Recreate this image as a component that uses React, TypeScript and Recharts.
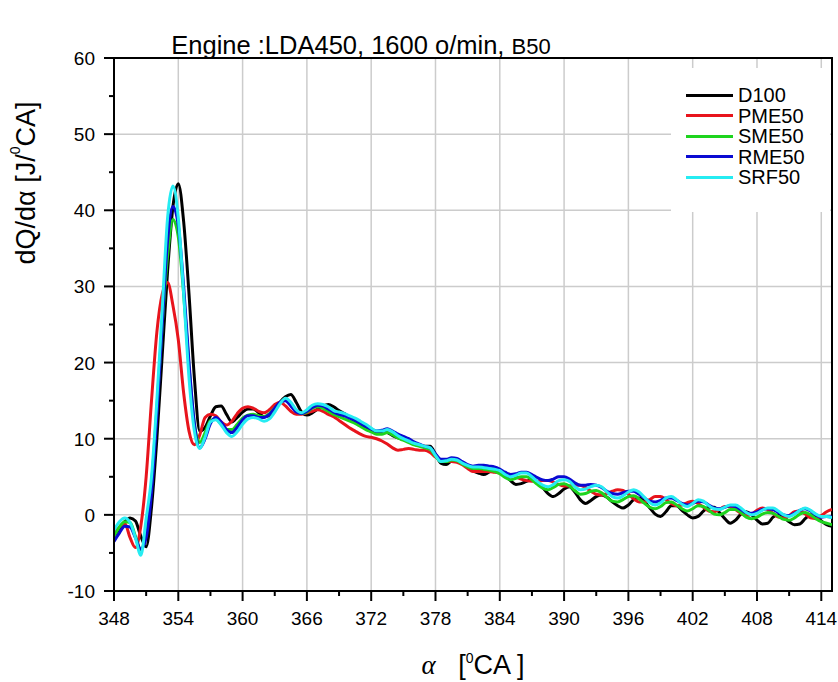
import React from 'react';
import {
  CartesianGrid,
  Label,
  Legend,
  Line,
  LineChart,
  ReferenceArea,
  XAxis,
  YAxis,
} from 'recharts';

// Heat release rate vs crank angle, LDA450 at 1600 rpm, B50 blends.
// Values every 0.5 °CA.

const ANGLE = [
  348, 348.5, 349, 349.5, 350, 350.5, 351, 351.5, 352, 352.5,
  353, 353.5, 354, 354.5, 355, 355.5, 356, 356.5, 357, 357.5,
  358, 358.5, 359, 359.5, 360, 360.5, 361, 361.5, 362, 362.5,
  363, 363.5, 364, 364.5, 365, 365.5, 366, 366.5, 367, 367.5,
  368, 368.5, 369, 369.5, 370, 370.5, 371, 371.5, 372, 372.5,
  373, 373.5, 374, 374.5, 375, 375.5, 376, 376.5, 377, 377.5,
  378, 378.5, 379, 379.5, 380, 380.5, 381, 381.5, 382, 382.5,
  383, 383.5, 384, 384.5, 385, 385.5, 386, 386.5, 387, 387.5,
  388, 388.5, 389, 389.5, 390, 390.5, 391, 391.5, 392, 392.5,
  393, 393.5, 394, 394.5, 395, 395.5, 396, 396.5, 397, 397.5,
  398, 398.5, 399, 399.5, 400, 400.5, 401, 401.5, 402, 402.5,
  403, 403.5, 404, 404.5, 405, 405.5, 406, 406.5, 407, 407.5,
  408, 408.5, 409, 409.5, 410, 410.5, 411, 411.5, 412, 412.5,
  413, 413.5, 414, 414.5, 415,
];

const D100 = [
  -2.8, -1.8, -0.9, -0.4, -0.8, -2.8, -4.2, 1.0, 10, 21,
  32, 40.5, 43.5, 38.5, 29, 18, 11, 11.5, 13, 14.2,
  14.3, 13.2, 12.2, 12.8, 13.5, 13.9, 13.9, 13.4, 12.9, 13.0,
  13.8, 14.8, 15.5, 15.8, 14.8, 13.5, 13.1, 13.4, 13.9, 14.3,
  14.5, 14.2, 13.7, 13.3, 12.8, 12.3, 11.8, 11.3, 11.0, 10.8,
  10.9, 10.8, 10.4, 10.1, 9.9, 9.6, 9.3, 9.1, 9.0, 9.0,
  8.0, 6.8, 6.6, 7.1, 7.2, 6.8, 6.3, 5.8, 5.5, 5.3,
  5.6, 5.9, 5.8, 5.2, 4.5, 4.0, 4.1, 4.4, 4.6, 4.3,
  3.6, 2.8, 2.4, 2.8, 3.4, 3.7, 3.0, 2.0, 1.5, 1.9,
  2.4, 2.6, 2.3, 1.7, 1.2, 0.9, 1.3, 2.0, 2.2, 1.7,
  0.9, 0.1, -0.2, 0.4, 1.2, 1.2, 0.6, 0.0, -0.4, -0.2,
  0.5, 1.0, 1.0, 0.3, -0.5, -1.1, -0.7, 0.1, 0.4, 0.0,
  -0.7, -1.2, -1.1, -0.3, 0.0, -0.3, -0.9, -1.3, -1.2, -0.5,
  0.0, -0.2, -0.8, -1.3, -1.5,
];

const PME50 = [
  -2.5, -1.6, -1.1, -3.0, -4.3, -1.5, 5, 15, 24, 29,
  30.5, 27.5, 23, 16, 11, 9.2, 10.5, 12.8, 13.2, 13.0,
  12.2, 11.8, 12.3, 13.3, 14.0, 14.2, 14.0, 13.6, 13.4, 13.8,
  14.5, 14.8, 14.3, 13.6, 13.2, 13.2, 13.4, 13.6, 13.8, 13.6,
  13.2, 12.9, 12.4, 11.9, 11.4, 11.0, 10.6, 10.3, 10.2, 10.0,
  9.7, 9.3, 8.8, 8.5, 8.6, 8.7, 8.6, 8.5, 8.5, 8.2,
  7.6, 7.2, 7.1, 7.0, 6.9, 6.6, 6.1, 5.7, 5.7, 5.7,
  5.7, 5.6, 5.5, 5.4, 5.3, 5.0, 4.7, 4.5, 4.4, 4.4,
  4.5, 4.5, 4.3, 4.0, 3.8, 3.8, 3.9, 3.9, 3.6, 3.1,
  2.7, 2.6, 2.8, 3.1, 3.3, 3.2, 2.7, 2.1, 1.7, 1.7,
  2.0, 2.4, 2.4, 2.0, 1.5, 1.2, 1.3, 1.6, 1.8, 1.5,
  1.0, 0.5, 0.4, 0.7, 1.1, 1.1, 0.7, 0.2, -0.1, 0.1,
  0.6, 0.9, 0.7, 0.2, -0.3, -0.4, -0.1, 0.4, 0.5, 0.1,
  -0.4, -0.5, -0.1, 0.4, 0.7,
];

const SME50 = [
  -2.8, -1.6, -0.9, -1.0, -2.8, -4.6, -2.0, 4, 14, 25,
  34, 38.8, 36.5, 29, 19.5, 12, 9.5, 10.8, 12.4, 12.6,
  11.9, 11.2, 11.2, 11.9, 12.7, 13.1, 13.2, 13.0, 12.9, 13.3,
  14.0, 14.7, 15.1, 14.4, 13.6, 13.3, 13.5, 14.0, 14.2, 14.0,
  13.6, 13.2, 12.9, 12.6, 12.3, 12.0, 11.6, 11.2, 10.9, 10.6,
  10.6, 10.8, 10.5, 10.1, 9.8, 9.5, 9.2, 9.0, 8.8, 8.6,
  7.7, 7.0, 7.0, 7.2, 7.1, 6.7, 6.3, 6.1, 6.1, 6.0,
  5.9, 5.7, 5.4, 4.9, 4.6, 4.8, 5.0, 5.0, 4.6, 4.0,
  3.5, 3.3, 3.6, 4.0, 4.1, 3.8, 3.2, 2.7, 2.8, 3.1,
  3.2, 2.9, 2.3, 1.8, 1.7, 2.0, 2.4, 2.5, 2.1, 1.5,
  1.0, 0.8, 1.1, 1.6, 1.7, 1.3, 0.8, 0.5, 0.8, 1.2,
  1.1, 0.6, 0.1, 0.0, 0.3, 0.7, 0.7, 0.3, -0.3, -0.5,
  -0.3, 0.1, 0.3, 0.2, -0.2, -0.6, -0.7, -0.4, 0.1, 0.3,
  0.0, -0.5, -0.9, -1.1, -1.3,
];

const RME50 = [
  -3.5, -2.4, -1.5, -1.6, -3.0, -4.5, -3.0, 3, 13, 25,
  36, 40.5, 38, 30, 20, 12, 8.8, 10.0, 12.0, 12.8,
  12.2, 11.2, 10.8, 11.5, 12.5, 13.0, 13.0, 12.8, 12.8, 13.2,
  14.0, 14.8, 15.0, 14.3, 13.5, 13.3, 13.6, 14.1, 14.4, 14.3,
  13.9, 13.5, 13.2, 13.0, 12.7, 12.4, 12.0, 11.6, 11.3, 11.0,
  11.1, 11.3, 11.0, 10.6, 10.3, 10.0, 9.6, 9.3, 9.0, 8.8,
  8.0, 7.3, 7.3, 7.5, 7.4, 7.0, 6.6, 6.4, 6.5, 6.5,
  6.4, 6.3, 6.0, 5.6, 5.3, 5.4, 5.6, 5.6, 5.3, 4.9,
  4.6, 4.5, 4.7, 5.0, 5.0, 4.7, 4.2, 3.9, 3.9, 4.0,
  3.9, 3.6, 3.1, 2.8, 2.7, 2.9, 3.1, 3.1, 2.7, 2.2,
  1.8, 1.7, 1.9, 2.2, 2.2, 1.9, 1.5, 1.3, 1.5, 1.8,
  1.7, 1.3, 0.9, 0.8, 1.0, 1.2, 1.1, 0.7, 0.3, 0.2,
  0.4, 0.7, 0.8, 0.7, 0.3, 0.0, -0.1, 0.2, 0.6, 0.8,
  0.5, 0.0, -0.3, -0.2, -0.3,
];

const SRF50 = [
  -2.0, -0.9, -0.4, -1.0, -3.0, -5.3, -0.5, 5, 15, 27,
  39, 43.2, 39, 29, 18, 11, 8.7, 10.2, 12.2, 12.5,
  11.8, 10.8, 10.3, 10.9, 11.9, 12.6, 12.8, 12.6, 12.3, 12.6,
  13.5, 14.6, 15.3, 14.8, 13.8, 13.4, 13.8, 14.4, 14.6, 14.5,
  14.2, 13.7, 13.5, 13.3, 13.0, 12.7, 12.3, 11.9, 11.4, 11.0,
  11.0, 11.2, 10.9, 10.4, 10.0, 9.7, 9.4, 9.2, 9.0, 8.8,
  7.8, 7.0, 7.1, 7.3, 7.2, 6.8, 6.5, 6.3, 6.3, 6.2,
  6.1, 6.0, 5.8, 5.3, 5.0, 5.2, 5.5, 5.5, 5.0, 4.4,
  3.9, 3.7, 4.0, 4.5, 4.6, 4.4, 3.7, 3.3, 3.4, 3.7,
  3.9, 3.7, 3.0, 2.4, 2.2, 2.5, 3.0, 3.3, 3.0, 2.3,
  1.6, 1.3, 1.6, 2.2, 2.4, 2.0, 1.4, 1.1, 1.5, 2.0,
  1.8, 1.2, 0.8, 0.7, 1.0, 1.3, 1.3, 0.9, 0.3, 0.0,
  0.2, 0.6, 0.9, 0.9, 0.5, 0.0, -0.2, 0.1, 0.6, 0.9,
  0.6, 0.1, -0.2, -0.2, -0.4,
];

const SERIES = [
  { key: 'D100', color: '#000000', values: D100 },
  { key: 'PME50', color: '#e8141c', values: PME50 },
  { key: 'SME50', color: '#1ed41e', values: SME50 },
  { key: 'RME50', color: '#0a0ad2', values: RME50 },
  { key: 'SRF50', color: '#26ecf2', values: SRF50 },
];

const X_TICKS = [348, 351, 354, 357, 360, 363, 366, 369, 372, 375, 378, 381, 384, 387, 390, 393, 396, 399, 402, 405, 408, 411, 414];
const X_LABELS = [348, 354, 360, 366, 372, 378, 384, 390, 396, 402, 408, 414];
const Y_TICKS = [-10, -5, 0, 5, 10, 15, 20, 25, 30, 35, 40, 45, 50, 55, 60];
const Y_LABELS = [-10, 0, 10, 20, 30, 40, 50, 60];

const FONT = '"Liberation Sans", Arial, sans-serif';

const rows = ANGLE.map((angle, i) => {
  const row: Record<string, number> = { angle };
  SERIES.forEach((s) => {
    row[s.key] = s.values[i];
  });
  return row;
});

function XTick(props: any) {
  const { x, y, payload } = props;
  const major = X_LABELS.includes(payload.value);
  return (
    <g>
      <line x1={x} x2={x} y1={y} y2={y + (major ? 10 : 5)} stroke="#000" strokeWidth={2} />
      {major && (
        <text x={x} y={y + 34} textAnchor="middle" fontSize={19} fontFamily={FONT} fill="#000">
          {payload.value}
        </text>
      )}
    </g>
  );
}

function YTick(props: any) {
  const { x, y, payload } = props;
  const major = Y_LABELS.includes(payload.value);
  return (
    <g>
      <line x1={x} x2={x - (major ? 10 : 5)} y1={y} y2={y} stroke="#000" strokeWidth={2} />
      {major && (
        <text x={x - 19} y={y + 7} textAnchor="end" fontSize={19} fontFamily={FONT} fill="#000">
          {payload.value}
        </text>
      )}
    </g>
  );
}

function XAxisTitle(props: any) {
  const vb = props.viewBox;
  return (
    <text
      x={vb.x + vb.width / 2}
      y={vb.y + 83}
      textAnchor="middle"
      fontSize={27}
      fontFamily={FONT}
      fill="#000"
      style={{ whiteSpace: 'pre' }}
    >
      <tspan fontStyle="italic" fontFamily='"Liberation Serif", serif'>α</tspan>
      <tspan>{'   ['}</tspan>
      <tspan dy={-11} fontSize={14}>0</tspan>
      <tspan dy={11}>{'CA ]'}</tspan>
    </text>
  );
}

function YAxisTitle() {
  return (
    <text
      x={26}
      y={183}
      transform="rotate(-90, 26, 183)"
      textAnchor="middle"
      dominantBaseline="central"
      fontSize={27}
      fontFamily={FONT}
      fill="#000"
    >
      <tspan>{'dQ/dα [J/'}</tspan>
      <tspan dy={-11} fontSize={14}>0</tspan>
      <tspan dy={11}>CA]</tspan>
    </text>
  );
}

function LegendBox() {
  return (
    <div style={{ background: '#fff', width: 159, height: 144, position: 'relative', fontFamily: FONT }}>
      {SERIES.map((s, i) => (
        <div
          key={s.key}
          style={{ position: 'absolute', left: 0, top: 27 + i * 20.5 - 11, height: 22, display: 'flex', alignItems: 'center' }}
        >
          <div style={{ marginLeft: 15, width: 47, height: 3, background: s.color }} />
          <span style={{ marginLeft: 5, fontSize: 20, lineHeight: '22px', color: '#000' }}>{s.key}</span>
        </div>
      ))}
    </div>
  );
}

export default function App() {
  return (
    <div style={{ position: 'absolute', left: 0, top: 0, width: 838, height: 682, background: '#fff' }}>
      <div
        style={{
          position: 'absolute',
          left: 0,
          top: 32,
          width: 722,
          textAlign: 'center',
          fontFamily: FONT,
          fontSize: 25.5,
          lineHeight: '26px',
          color: '#000',
          whiteSpace: 'pre',
        }}
      >
        Engine :LDA450, 1600 o/min, <span style={{ fontSize: 22 }}>B50</span>
      </div>
      <LineChart width={838} height={682} data={rows} margin={{ top: 58, right: 6, bottom: 61, left: 74 }}>
        <CartesianGrid stroke="#cccccc" strokeWidth={1.5} verticalValues={X_LABELS} horizontalValues={Y_LABELS} />
        <XAxis
          dataKey="angle"
          type="number"
          domain={[348, 415]}
          allowDataOverflow
          ticks={X_TICKS}
          interval={0}
          tick={<XTick />}
          tickLine={false}
          tickSize={0}
          tickMargin={0}
          axisLine={{ stroke: '#000', strokeWidth: 2 }}
          height={30}
        >
          <Label content={<XAxisTitle />} />
        </XAxis>
        <YAxis
          type="number"
          domain={[-10, 60]}
          allowDataOverflow
          ticks={Y_TICKS}
          interval={0}
          tick={<YTick />}
          tickLine={false}
          tickSize={0}
          tickMargin={0}
          axisLine={{ stroke: '#000', strokeWidth: 2 }}
          width={40}
        >
          <Label content={<YAxisTitle />} />
        </YAxis>
        <ReferenceArea x1={348} x2={415} y1={-10} y2={60} fill="none" stroke="#000" strokeWidth={2} />
        <Legend
          layout="vertical"
          align="center"
          verticalAlign="middle"
          wrapperStyle={{ left: 671, top: 68, width: 159, height: 144 }}
          content={() => <LegendBox />}
        />
        {SERIES.map((s) => (
          <Line
            key={s.key}
            dataKey={s.key}
            name={s.key}
            type="monotone"
            stroke={s.color}
            strokeWidth={3}
            dot={false}
            activeDot={false}
            isAnimationActive={false}
          />
        ))}
      </LineChart>
    </div>
  );
}
